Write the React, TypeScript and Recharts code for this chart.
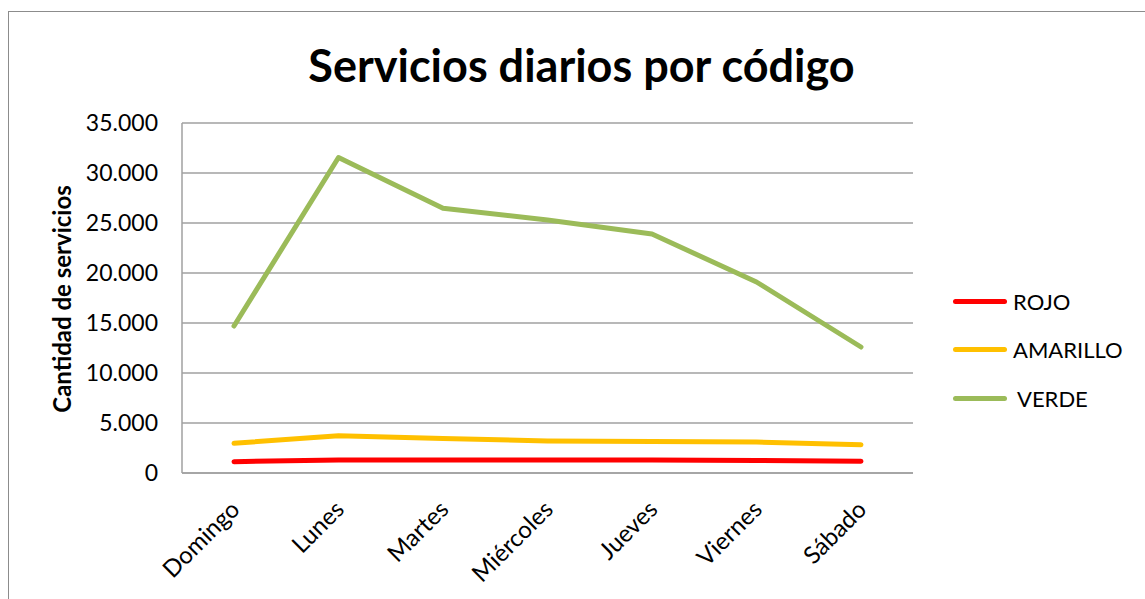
import React from "react";
import { LineChart, Line, XAxis, YAxis, CartesianGrid } from "recharts";

const days = ["Domingo", "Lunes", "Martes", "Miércoles", "Jueves", "Viernes", "Sábado"];
const rojo = [1130, 1300, 1300, 1300, 1300, 1250, 1170];
const amarillo = [2970, 3730, 3450, 3200, 3150, 3100, 2830];
const verde = [14700, 31550, 26480, 25300, 23900, 19100, 12600];
const yTicks = [0, 5000, 10000, 15000, 20000, 25000, 30000, 35000];

const seriesNames = ["ROJO", "AMARILLO", "VERDE"];
const seriesColors = ["#FF0000", "#FFC000", "#9BBB59"];

const data = days.map((d, i) => ({ day: d, ROJO: rojo[i], AMARILLO: amarillo[i], VERDE: verde[i] }));

const FONT = "Lato, 'Open Sans', sans-serif";

const fmt = (v: number) => (v === 0 ? "0" : v.toLocaleString("de-DE"));

const XTick = (props: any) => {
  const { x, y, payload } = props;
  const ax = x + 7;
  const ay = y + 30;
  return (
    <text
      x={ax}
      y={ay}
      textAnchor="end"
      transform={`rotate(-45, ${ax}, ${ay})`}
      fontFamily={FONT}
      fontSize={24}
      fill="#000"
    >
      {payload.value}
    </text>
  );
};

const LegendBox = () => (
  <div style={{ position: "absolute", left: 953, top: 277, fontFamily: FONT, fontSize: 22, color: "#000" }}>
    {seriesNames.map((n, i) => (
      <div key={n} style={{ display: "flex", alignItems: "center", height: 48.5 }}>
        <div style={{ width: 54, height: 5, borderRadius: 3, background: seriesColors[i], marginRight: i === 2 ? 10 : 6 }} />
        <span>{n}</span>
      </div>
    ))}
  </div>
);

export default function App() {
  return (
    <div style={{ position: "absolute", left: 0, top: 0, width: 1145, height: 599, background: "#fff", overflow: "hidden" }}>
      <div
        style={{
          position: "absolute",
          left: 8,
          top: 11,
          width: 1150,
          height: 620,
          borderLeft: "1.5px solid #8c8c8c",
          borderTop: "1.5px solid #8c8c8c",
        }}
      />
      <div
        style={{
          position: "absolute",
          left: 0,
          width: 1163,
          top: 38,
          textAlign: "center",
          fontFamily: FONT,
          fontWeight: 700,
          fontSize: 45,
          color: "#000",
        }}
      >
        Servicios diarios por código
      </div>
      <div
        style={{
          position: "absolute",
          left: 61,
          top: 299,
          transform: "translate(-50%, -50%) rotate(-90deg)",
          whiteSpace: "nowrap",
          fontFamily: FONT,
          fontWeight: 700,
          fontSize: 24,
          color: "#000",
        }}
      >
        Cantidad de servicios
      </div>
      <LineChart
        width={1145}
        height={599}
        data={data}
        margin={{ top: 123, right: 232, bottom: 0, left: 0 }}
        style={{ position: "absolute", left: 0, top: 0 }}
      >
        <CartesianGrid vertical={false} stroke="#a0a0a0" strokeWidth={1.5} />
        <XAxis
          dataKey="day"
          height={126}
          tick={<XTick />}
          tickLine={false}
          axisLine={{ stroke: "#a0a0a0", strokeWidth: 1.5 }}
          interval={0}
          padding={{ left: 52, right: 52 }}
        />
        <YAxis
          width={182}
          domain={[0, 35000]}
          ticks={yTicks}
          tickFormatter={fmt}
          tickLine={false}
          tickSize={0}
          tickMargin={24}
          axisLine={{ stroke: "#a0a0a0", strokeWidth: 1.5 }}
          tick={{ fontFamily: FONT, fontSize: 23, fill: "#000" }}
          interval={0}
        />
        {seriesNames.map((n, i) => (
          <Line
            key={n}
            type="linear"
            dataKey={n}
            stroke={seriesColors[i]}
            strokeWidth={5}
            dot={false}
            activeDot={false}
            strokeLinecap="round"
            strokeLinejoin="round"
            isAnimationActive={false}
          />
        ))}
      </LineChart>
      <LegendBox />
    </div>
  );
}
